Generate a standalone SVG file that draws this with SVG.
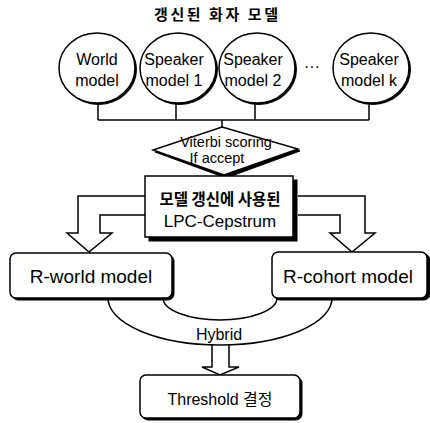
<svg xmlns="http://www.w3.org/2000/svg" width="430" height="423" viewBox="0 0 430 423">
<style>
text{font-family:"Liberation Sans","Noto Sans CJK KR",sans-serif;fill:#000;text-anchor:middle}
.ko{font-family:"Noto Sans CJK KR","Liberation Sans",sans-serif}
.kb{font-weight:bold}
.ln{fill:none;stroke:#000;stroke-width:1.5}
.sh{fill:#000;stroke:#000;stroke-width:1}
.nd{fill:#fff;stroke:#000;stroke-width:1.5}
.c{font-size:16px}
.b{font-size:19px}
</style>
<rect width="430" height="423" fill="#fff"/>
<text class="ko kb" x="216" y="20" font-size="15" textLength="124">갱신된 화자 모델</text>

<g id="connectors">
  <path class="ln" d="M98,103 V120 M176,103 V120 M255,103 V120 M369,103 V120 M98,120 H369 M222,120 V127"/>
  <path class="ln" d="M145,196 H78 V233 H67 L89,252 L112,233 H100 V215 H145"/>
  <path class="ln" d="M298,196 H365 V233 H375 L352,252 L330,233 H340 V215 H298"/>
  <path class="ln" d="M108,298 A112,47 0 0 0 332,298"/>
  <path class="ln" d="M163,298 A57,22 0 0 0 277,298"/>
  <path class="ln" d="M212,344 V367 H202 L220,375 L239,367 H229 V344"/>
  <text x="219" y="340" font-size="16">Hybrid</text>
</g>

<g id="world">
  <ellipse class="sh" cx="98.5" cy="69.5" rx="38" ry="35"/>
  <ellipse class="nd" cx="97" cy="68" rx="38" ry="35"/>
  <text class="c" x="97" y="65">World</text>
  <text class="c" x="97" y="86">model</text>
</g>
<g id="speaker1">
  <ellipse class="sh" cx="179.5" cy="69.5" rx="38" ry="35"/>
  <ellipse class="nd" cx="178" cy="68" rx="38" ry="35"/>
  <text class="c" x="174" y="65">Speaker</text>
  <text class="c" x="174" y="86">model 1</text>
</g>
<g id="speaker2">
  <ellipse class="sh" cx="258.5" cy="69.5" rx="38" ry="35"/>
  <ellipse class="nd" cx="257" cy="68" rx="38" ry="35"/>
  <text class="c" x="253" y="65">Speaker</text>
  <text class="c" x="253" y="86">model 2</text>
</g>
<text x="312" y="72" font-size="16">···</text>
<g id="speakerk">
  <ellipse class="sh" cx="372.5" cy="69.5" rx="38" ry="35"/>
  <ellipse class="nd" cx="371" cy="68" rx="38" ry="35"/>
  <text class="c" x="369" y="65">Speaker</text>
  <text class="c" x="369" y="86">model k</text>
</g>

<g id="viterbi">
  <polygon class="sh" points="224,129 300,151 226,178 155,152"/>
  <polygon class="nd" points="222,127 298,149 224,175 153,150"/>
  <text x="226" y="147" font-size="14.5">Viterbi scoring</text>
  <text x="217" y="163" font-size="14.5">If accept</text>
</g>

<g id="lpc">
  <rect class="sh" x="149" y="180" width="148" height="61"/>
  <rect class="nd" x="145" y="176" width="148" height="61"/>
  <text class="ko kb" x="220" y="205" font-size="15.5">모델 갱신에 사용된</text>
  <text x="220" y="227" font-size="17">LPC-Cepstrum</text>
</g>

<g id="rworld">
  <rect class="sh" x="12" y="255" width="162" height="45" rx="6"/>
  <rect class="nd" x="10" y="253" width="162" height="45" rx="6"/>
  <text class="b" x="91" y="283">R-world model</text>
</g>
<g id="rcohort">
  <rect class="sh" x="274" y="254" width="156" height="46" rx="6"/>
  <rect class="nd" x="272" y="252" width="155" height="46" rx="6"/>
  <text class="b" x="348" y="283">R-cohort model</text>
</g>
<g id="threshold">
  <rect class="sh" x="142" y="377" width="160" height="43" rx="6"/>
  <rect class="nd" x="140" y="375" width="160" height="43" rx="6"/>
  <text x="220" y="405" font-size="16">Threshold <tspan class="ko">결정</tspan></text>
</g>
</svg>
